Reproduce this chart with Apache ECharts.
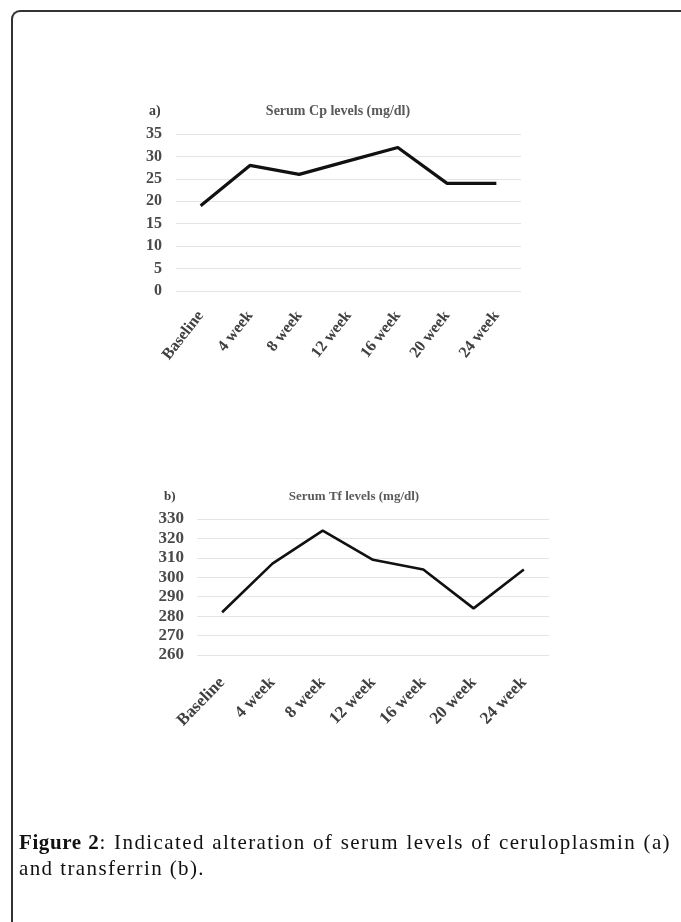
<!DOCTYPE html>
<html>
<head>
<meta charset="utf-8">
<script src="https://cdn.jsdelivr.net/npm/echarts@6/dist/echarts.min.js"></script>
<style>
  html, body { margin: 0; padding: 0; background: #fff; }
  #wrap { position: relative; width: 681px; height: 922px; overflow: hidden; }
  #chart { position: absolute; left: 0; top: 0; width: 681px; height: 922px; }
  #frame { position: absolute; left: 11px; top: 10px; width: 700px; height: 940px;
           border-top: 2px solid #333; border-left: 2px solid #333; border-top-left-radius: 9px; box-sizing: border-box; }
  #caption { position: absolute; left: 19px; top: 829px; width: 652px;
             font-family: "Liberation Serif", "DejaVu Serif", serif; font-size: 21px; line-height: 26px;
             letter-spacing: 1.4px; color: #111; }
  #caption .l1 { text-align: justify; text-align-last: justify; }
  #caption b { font-weight: bold; letter-spacing: 0.6px; }
</style>
</head>
<body>
<div id="wrap">
  <div id="frame"></div>
  <div id="chart"></div>
  <div id="caption"><div class="l1"><b>Figure 2</b>: Indicated alteration of serum levels of ceruloplasmin (a)</div><div>and transferrin (b).</div></div>
</div>
<script>
var categories = ["Baseline", "4 week", "8 week", "12 week", "16 week", "20 week", "24 week"];
var cpValues = [19, 28, 26, 29, 32, 24, 24];
var tfValues = [282, 307, 324, 309, 304, 284, 304];
var cpTitle = "Serum Cp levels (mg/dl)";
var tfTitle = "Serum Tf levels (mg/dl)";

var serif = '"Liberation Serif", "Times New Roman", serif';
var chart = echarts.init(document.getElementById('chart'), null, { renderer: 'canvas' });

function xAxis(gridIndex, margin, rotate, size) {
  return {
    type: 'category', gridIndex: gridIndex, data: categories, boundaryGap: true,
    axisLine: { show: false }, axisTick: { show: false },
    axisLabel: { interval: 0, rotate: rotate, margin: margin, color: '#404040',
                 fontFamily: serif, fontWeight: 'bold', fontSize: size }
  };
}
function yAxis(gridIndex, min, max, interval, margin, size) {
  return {
    type: 'value', gridIndex: gridIndex, min: min, max: max, interval: interval,
    axisLine: { show: false }, axisTick: { show: false },
    splitLine: { lineStyle: { color: '#e4e4e4', width: 1 } },
    axisLabel: { margin: margin, color: '#4a4a4a', fontFamily: serif, fontWeight: 'bold', fontSize: size }
  };
}

chart.setOption({
  animation: false,
  title: [
    { text: 'a)', left: 144, top: 99, textStyle: { fontFamily: serif, fontWeight: 'bold', fontSize: 14, color: '#404040' } },
    { text: cpTitle, left: 333, top: 99, textAlign: 'center', textStyle: { fontFamily: serif, fontWeight: 'bold', fontSize: 14, color: '#595959' } },
    { text: 'b)', left: 159, top: 485, textStyle: { fontFamily: serif, fontWeight: 'bold', fontSize: 13, color: '#404040' } },
    { text: tfTitle, left: 349, top: 485, textAlign: 'center', textStyle: { fontFamily: serif, fontWeight: 'bold', fontSize: 13, color: '#595959' } }
  ],
  grid: [
    { left: 176, top: 134, width: 345, height: 157, containLabel: false },
    { left: 197, top: 519, width: 352, height: 136, containLabel: false }
  ],
  xAxis: [xAxis(0, 22, 52, 16), xAxis(1, 25, 46, 17)],
  yAxis: [yAxis(0, 0, 35, 5, 14, 16), yAxis(1, 260, 330, 10, 13, 17)],
  series: [
    { type: 'line', xAxisIndex: 0, yAxisIndex: 0, data: cpValues, showSymbol: false, symbol: 'none',
      lineStyle: { color: '#111', width: 3.2 } },
    { type: 'line', xAxisIndex: 1, yAxisIndex: 1, data: tfValues, showSymbol: false, symbol: 'none',
      lineStyle: { color: '#111', width: 2.6 } }
  ]
});
</script>
</body>
</html>
